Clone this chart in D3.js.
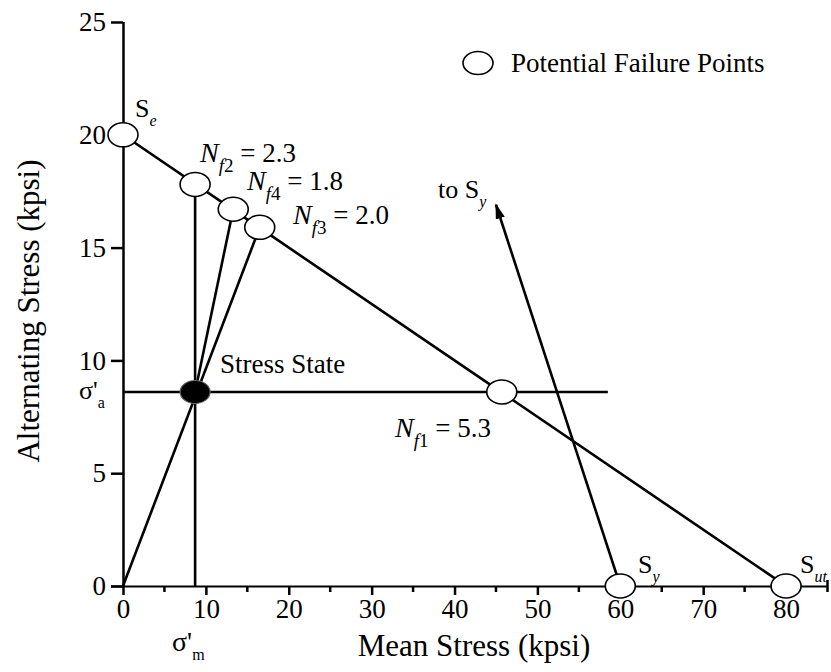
<!DOCTYPE html>
<html>
<head>
<meta charset="utf-8">
<script src="https://cdn.jsdelivr.net/npm/d3@7"></script>
<style>
  html, body { margin: 0; padding: 0; background: #fff; }
</style>
</head>
<body>
<svg id="chart" width="831" height="672"></svg>
<script>
// ---- data ----
const xTicks = [0, 10, 20, 30, 40, 50, 60, 70, 80];
const xMinorTicks = [5, 15, 25, 35, 45, 55, 65, 75];
const yTicks = [0, 5, 10, 15, 20, 25];
const pointNames = ["Se", "Nf2", "Nf4", "Nf3", "Nf1", "Sy", "Sut"];
const pointMean = [0, 8.7, 13.3, 16.5, 45.7, 60, 80];
const pointAlt  = [20, 17.8, 16.7, 15.9, 8.6, 0, 0];
const stressMean = 8.7;
const stressAlt = 8.6;
const goodmanLine = [[0, 20], [80, 0]];
const loadLine = [[0, 0], [16.5, 15.9]];
const loadLine4 = [[8.7, 8.6], [13.3, 16.7]];
const verticalLine = [[8.7, 0], [8.7, 17.8]];
const horizontalLine = [[0, 8.6], [58.5, 8.6]];
const arrowLine = [[60, 0], [45, 16.9]];

const FONT = "'Liberation Serif', 'Times New Roman', 'DejaVu Serif', serif";
const svg = d3.select("#chart").attr("font-family", FONT);
const x = d3.scaleLinear().domain([0, 85]).range([123, 827.5]);
const y = d3.scaleLinear().domain([0, 25]).range([586, 22]);

const defs = svg.append("defs");
defs.append("marker").attr("id", "arrow").attr("viewBox", "0 0 10 10")
  .attr("refX", 9).attr("refY", 5).attr("markerWidth", 6).attr("markerHeight", 6)
  .attr("markerUnits", "strokeWidth")
  .attr("orient", "auto")
  .append("path").attr("d", "M0,2 L10,5 L0,8 Z").attr("fill", "#000");

// ---- axes ----
const xAxis = svg.append("g").attr("transform", `translate(0,${y(0)})`)
  .call(d3.axisBottom(x).tickValues(xTicks).tickSize(9).tickPadding(4).tickSizeOuter(0));
xAxis.select(".domain").attr("d", `M${x(0)-12},0.5H${x(85)}`).attr("stroke-width", 2);
xAxis.selectAll(".tick line").attr("stroke-width", 2.5);
xAxis.selectAll(".tick text").attr("font-size", 27).attr("dy", "0.72em");
xAxis.append("g").selectAll("line").data(xMinorTicks).join("line")
  .attr("x1", d => x(d)).attr("x2", d => x(d)).attr("y1", 0).attr("y2", 6)
  .attr("stroke", "#000").attr("stroke-width", 2.5);
xAxis.append("line").attr("x1", x(85)).attr("x2", x(85)).attr("y1", -6).attr("y2", 6)
  .attr("stroke", "#000").attr("stroke-width", 2.5);

const yAxis = svg.append("g").attr("transform", `translate(${x(0)},0)`)
  .call(d3.axisLeft(y).tickValues(yTicks).tickSize(12).tickPadding(5).tickSizeOuter(0));
yAxis.select(".domain").attr("d", `M0.5,${y(0)}V${y(25)}`).attr("stroke-width", 2.5);
yAxis.selectAll(".tick line").attr("stroke-width", 2.5);
yAxis.selectAll(".tick text").attr("font-size", 27).attr("dy", "0.32em");

// ---- lines ----
const line = d3.line().x(d => x(d[0])).y(d => y(d[1]));
[goodmanLine, loadLine, loadLine4, verticalLine, horizontalLine].forEach(l => {
  svg.append("path").attr("d", line(l)).attr("fill", "none")
    .attr("stroke", "#000").attr("stroke-width", 2.6);
});
svg.append("path").attr("d", line(arrowLine)).attr("fill", "none")
  .attr("stroke", "#000").attr("stroke-width", 2.6).attr("marker-end", "url(#arrow)");

// ---- points ----
svg.append("g").selectAll("ellipse").data(pointNames).join("ellipse")
  .attr("cx", (d, i) => x(pointMean[i])).attr("cy", (d, i) => y(pointAlt[i]))
  .attr("rx", 15).attr("ry", 12)
  .attr("fill", "#fff").attr("stroke", "#000").attr("stroke-width", 1.6);
svg.append("ellipse").attr("cx", x(stressMean)).attr("cy", y(stressAlt))
  .attr("rx", 15).attr("ry", 11.5).attr("fill", "#000")
  .attr("stroke", "#666").attr("stroke-width", 1.2);

// ---- legend ----
svg.append("ellipse").attr("cx", 478).attr("cy", 63).attr("rx", 15).attr("ry", 11.5)
  .attr("fill", "#fff").attr("stroke", "#000").attr("stroke-width", 1.6);
svg.append("text").attr("x", 511).attr("y", 72).attr("font-size", 27).text("Potential Failure Points");

// ---- labels ----
function nfLabel(px, py, sub, value) {
  const t = svg.append("text").attr("x", px).attr("y", py).attr("font-size", 28);
  t.append("tspan").attr("font-style", "italic").text("N");
  t.append("tspan").attr("font-size", 19).attr("dy", 10).attr("font-style", "italic").text("f");
  t.append("tspan").attr("font-size", 19).text(sub);
  t.append("tspan").attr("dy", -10).attr("font-size", 27).text(" = " + value);
}
nfLabel(200, 162, "2", "2.3");
nfLabel(247, 190, "4", "1.8");
nfLabel(293, 224, "3", "2.0");
nfLabel(395, 437, "1", "5.3");

function subLabel(px, py, main, sub, italicSub, size) {
  const t = svg.append("text").attr("x", px).attr("y", py).attr("font-size", size || 26);
  t.append("tspan").text(main);
  const s = t.append("tspan").attr("font-size", 16).attr("dy", 9).text(sub);
  if (italicSub) s.attr("font-style", "italic");
}
subLabel(135, 117, "S", "e", true);
subLabel(438, 198, "to S", "y", true);
subLabel(638, 573, "S", "y", true);
subLabel(800, 573, "S", "ut", true);
subLabel(79, 399, "σ'", "a", false, 26);
subLabel(172, 651, "σ'", "m", false, 28);

svg.append("text").attr("x", 220).attr("y", 373).attr("font-size", 27).text("Stress State");

// ---- axis titles ----
svg.append("text").attr("x", 474).attr("y", 656).attr("text-anchor", "middle")
  .attr("font-size", 31).text("Mean Stress (kpsi)");
svg.append("text").attr("transform", "translate(39,311) rotate(-90)")
  .attr("text-anchor", "middle").attr("font-size", 31).text("Alternating Stress (kpsi)");

svg.selectAll("text").style("font-family", FONT).attr("fill", "#000");
svg.selectAll("g").attr("font-family", null);
</script>
</body>
</html>
